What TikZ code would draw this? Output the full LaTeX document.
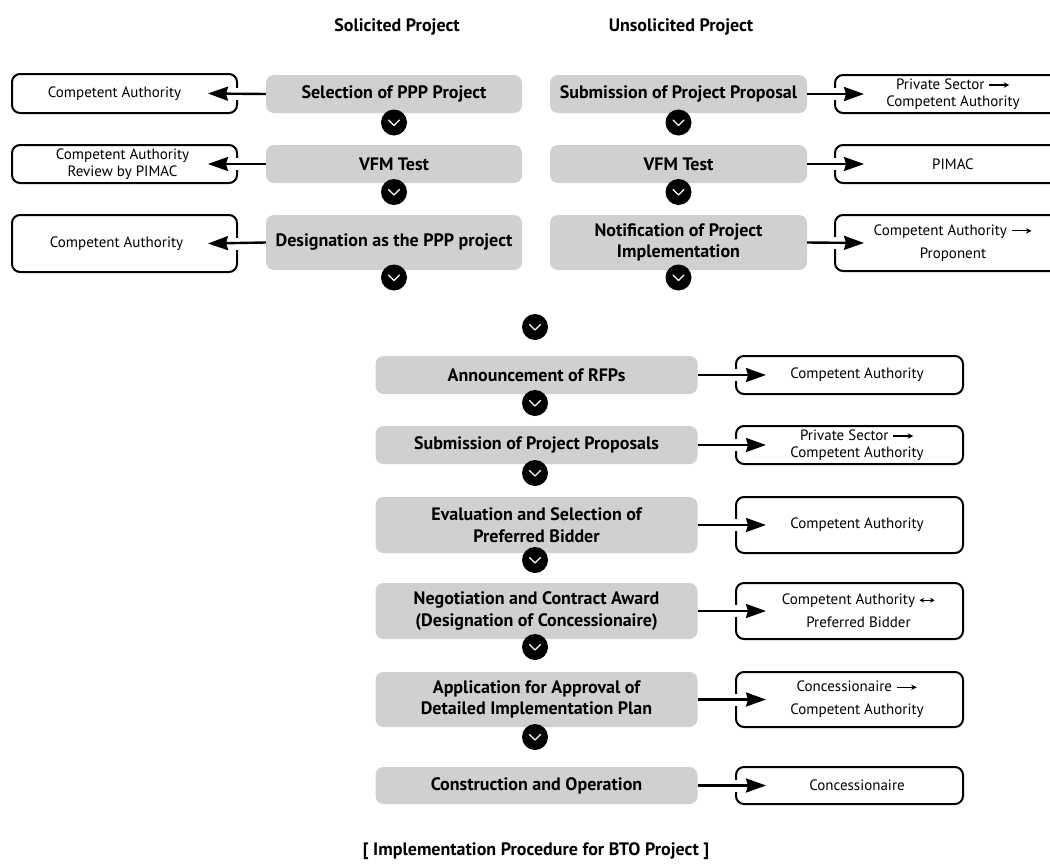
\documentclass[tikz,border=0pt]{standalone}
\usepackage{fontspec}
\setmainfont{PT Sans}
\usetikzlibrary{arrows.meta,calc}
\definecolor{boxgray}{RGB}{208,208,208}
\newcommand{\rarr}{\tikz[baseline=-0.6ex]\draw[line width=1.3pt,-{Stealth[length=5.5pt,width=5.5pt]}] (0pt,0pt)--(20pt,0pt);}
\newcommand{\lrarr}{\tikz[baseline=-0.6ex]\draw[line width=1.2pt,{Stealth[length=4.5pt,width=5pt]}-{Stealth[length=4.5pt,width=5pt]}] (0pt,0pt)--(15pt,0pt);}
\newcommand{\gapat}[1]{\fill[white] ($(#1)+(-2.5,-6)$) rectangle ($(#1)+(2.5,6)$);}
\tikzset{
  gbox/.style={fill=boxgray, rounded corners=8pt, font=\fontsize{18}{21.5}\selectfont\bfseries, align=center, inner sep=0pt},
  wbox/.style={draw=black, line width=2pt, fill=white, rounded corners=8pt, inner sep=0pt},
  wtext/.style={font=\fontsize{15}{16.5}\selectfont, align=center, inner sep=0pt},
  wtextl/.style={font=\fontsize{15}{23}\selectfont, align=center, inner sep=0pt},
  chev/.style={circle, fill=black, minimum size=26pt, inner sep=0pt,
    path picture={\draw[white, line width=1.1pt, line cap=round, line join=round]
      ([xshift=-5.5pt,yshift=2.5pt]path picture bounding box.center) --
      ([yshift=-3pt]path picture bounding box.center) --
      ([xshift=5.5pt,yshift=2.5pt]path picture bounding box.center);}},
  conn/.style={line width=2.4pt, -{Stealth[length=20pt,width=14pt,inset=2pt]}},
  head/.style={font=\fontsize{18}{21}\selectfont\bfseries, inner sep=0pt},
}
\begin{document}
\begin{tikzpicture}[x=1pt,y=-1pt]
\useasboundingbox (0,0) rectangle (1050,865);
\clip (0,0) rectangle (1050,865);

% headers
\node[head] (hs) at (397,27) {Solicited Project};
\node[head] (hu) at (681,27) {Unsolicited Project};

% solicited column
\node[gbox, minimum width=256pt, minimum height=38pt] (L1) at (394,94) {Selection of PPP Project};
\node[gbox, minimum width=256pt, minimum height=38pt] (L2) at (394,164) {VFM Test};
\node[gbox, minimum width=256pt, minimum height=55pt] (L3) at (394,242.5) {Designation as the PPP project};
\node[chev] (cl1) at (394,122.5) {};
\node[chev] (cl2) at (394,192) {};
\node[chev] (cl3) at (394,277.5) {};

\node[wbox, minimum width=225pt, minimum height=39pt,
  label={[wtext, xshift=-10pt]center:{Competent Authority}}] (WL1) at (124.5,93.5) {};
\node[wbox, minimum width=225pt, minimum height=38pt,
  label={[wtext, xshift=-2pt]center:{Competent Authority\\Review by PIMAC}}] (WL2) at (124.5,164) {};
\node[wbox, minimum width=225pt, minimum height=57pt,
  label={[wtext, xshift=-8pt]center:{Competent Authority}}] (WL3) at (124.5,243.5) {};

% unsolicited column
\node[gbox, minimum width=257pt, minimum height=38pt] (R1) at (678.5,94) {Submission of Project Proposal};
\node[gbox, minimum width=257pt, minimum height=38pt] (R2) at (678.5,164) {VFM Test};
\node[gbox, minimum width=257pt, minimum height=55pt] (R3) at (678.5,242.5) {Notification of Project\\Implementation};
\node[chev] (cr1) at (678.5,122.5) {};
\node[chev] (cr2) at (678.5,192) {};
\node[chev] (cr3) at (678.5,277.5) {};

\node[wbox, minimum width=236pt, minimum height=38pt,
  label={[wtext]center:{Private Sector \rarr\\Competent Authority}}] (WR1) at (953,94) {};
\node[wbox, minimum width=236pt, minimum height=38pt,
  label={[wtext]center:{PIMAC}}] (WR2) at (953,164) {};
\node[wbox, minimum width=236pt, minimum height=56pt,
  label={[wtextl]center:{Competent Authority \rarr\\Proponent}}] (WR3) at (953,243) {};

% joining chevron
\node[chev] (cm) at (535,327) {};

% common procedure
\node[gbox, minimum width=322pt, minimum height=38pt] (M1) at (536.5,375) {Announcement of RFPs};
\node[gbox, minimum width=322pt, minimum height=38pt] (M2) at (536.5,445) {Submission of Project Proposals};
\node[gbox, minimum width=322pt, minimum height=56pt] (M3) at (536.5,525) {Evaluation and Selection of\\Preferred Bidder};
\node[gbox, minimum width=322pt, minimum height=56pt] (M4) at (536.5,611) {Negotiation and Contract Award\\(Designation of Concessionaire)};
\node[gbox, minimum width=322pt, minimum height=55pt] (M5) at (536.5,699.5) {Application for Approval of\\Detailed Implementation Plan};
\node[gbox, minimum width=322pt, minimum height=37pt] (M6) at (536.5,785.5) {Construction and Operation};
\node[chev] (cm1) at (535,403) {};
\node[chev] (cm2) at (535,473) {};
\node[chev] (cm3) at (535,560) {};
\node[chev] (cm4) at (535,647) {};
\node[chev] (cm5) at (535,737) {};

\node[wbox, minimum width=227pt, minimum height=38pt,
  label={[wtext, xshift=7.5pt]center:{Competent Authority}}] (WM1) at (849.5,375) {};
\node[wbox, minimum width=227pt, minimum height=38pt,
  label={[wtext, xshift=7.5pt]center:{Private Sector \rarr\\Competent Authority}}] (WM2) at (849.5,445) {};
\node[wbox, minimum width=227pt, minimum height=56pt,
  label={[wtext, xshift=7.5pt]center:{Competent Authority}}] (WM3) at (849.5,525) {};
\node[wbox, minimum width=227pt, minimum height=56pt,
  label={[wtextl, xshift=9pt]center:{Competent Authority \lrarr\\Preferred Bidder}}] (WM4) at (849.5,611) {};
\node[wbox, minimum width=227pt, minimum height=55pt,
  label={[wtextl, xshift=7.5pt]center:{Concessionaire \rarr\\Competent Authority}}] (WM5) at (849.5,699.5) {};
\node[wbox, minimum width=227pt, minimum height=37pt,
  label={[wtext, xshift=7.5pt]center:{Concessionaire}}] (WM6) at (849.5,785.5) {};

% gaps in box borders where the arrows enter
\gapat{WL1.east}\gapat{WL2.east}\gapat{WL3.east}
\gapat{WR1.west}\gapat{WR2.west}\gapat{WR3.west}
\gapat{WM1.west}\gapat{WM2.west}\gapat{WM3.west}
\gapat{WM4.west}\gapat{WM5.west}\gapat{WM6.west}

% connectors
\draw[conn] (L1.west) -- ($(WL1.east)+(-30,0)$);
\draw[conn] (L2.west) -- ($(WL2.east)+(-30,0)$);
\draw[conn] (L3.west) -- ($(WL3.east)+(-30,0)$);
\draw[conn] (R1.east) -- ($(WR1.west)+(30,0)$);
\draw[conn] (R2.east) -- ($(WR2.west)+(30,0)$);
\draw[conn] (R3.east) -- ($(WR3.west)+(30,0)$);
\draw[conn] (M1.east) -- ($(WM1.west)+(31,0)$);
\draw[conn] (M2.east) -- ($(WM2.west)+(31,0)$);
\draw[conn] (M3.east) -- ($(WM3.west)+(31,0)$);
\draw[conn] (M4.east) -- ($(WM4.west)+(31,0)$);
\draw[conn] (M5.east) -- ($(WM5.west)+(31,0)$);
\draw[conn] (M6.east) -- ($(WM6.west)+(31,0)$);

% caption
\node[head] (cap) at (536,851) {[ Implementation Procedure for BTO Project ]};
\end{tikzpicture}
\end{document}
